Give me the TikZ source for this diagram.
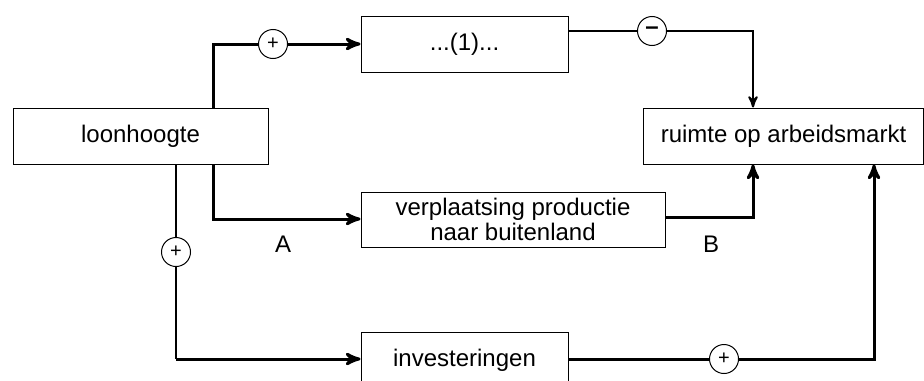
\documentclass[tikz,border=0pt]{standalone}
\usepackage{fontspec}
\setmainfont{Liberation Sans}
\usetikzlibrary{arrows,positioning}

\begin{document}
\begin{tikzpicture}[x=0.5pt,y=-0.5pt,>=stealth',
  box/.style={draw,line width=0.5pt,inner sep=0pt,minimum height=28pt,align=center,font=\fontsize{12}{12.5}\selectfont},
  sign/.style={draw,circle,line width=0.5pt,fill=white,inner sep=0pt,minimum size=14.5pt,font=\fontsize{10}{10}\selectfont},
  lab/.style={font=\fontsize{12}{12}\selectfont},
  link/.style={line width=1.5pt},
  thinlink/.style={line width=1pt}]
  \useasboundingbox (0,0) rectangle (924,380);
  \clip (0,0) rectangle (924,380);

  \node[box, minimum width=127.5pt] (loon) at (140.5,136) {loonhoogte};
  \node[box, minimum width=103.5pt] (een) at (464.5,44) {...(1)...};
  \node[box, minimum width=139.75pt] (ruimte) at (783.5,136) {ruimte op arbeidsmarkt};
  \node[box, minimum width=152pt, minimum height=27.5pt] (verpl) at (513,219.5) {verplaatsing productie\\naar buitenland};
  \node[box, minimum width=103.5pt] (inv) at (464.5,360) {investeringen};

  \node[sign] (plus1) at (273,44) {+};
  \node[sign, font=\fontsize{12}{12}\selectfont\bfseries] (min) at (652,31) {--};
  \node[sign] (plus2) at (176,252) {+};
  \node[sign] (plus3) at (724,359) {+};

  \node[lab] (labA) at (283,244) {A};
  \node[lab] (labB) at (711,244) {B};

  \coordinate (k1) at (213,44);
  \coordinate (k2) at (753,31);
  \coordinate (k3) at (213,219);
  \coordinate (k4) at (753,217);
  \coordinate (k5) at (176,359);
  \coordinate (k6) at (874,359);

  \draw[link,->] (loon.north -| k1) -- (k1) -- (plus1) -- (een);
  \draw[thinlink,->] (een.east |- min) -- (min) -- (k2) -- (k2 |- ruimte.north);
  \draw[link,->] (loon.south -| k3) -- (k3) -- (k3 -| verpl.west);
  \draw[link,->] (verpl.east |- k4) -- (k4) -- (k4 |- ruimte.south);
  \draw[thinlink] (loon.south -| k5) -- (plus2) -- (k5);
  \draw[link,->] (k5) -- (k5 -| inv.west);
  \draw[link,->] (inv.east |- k6) -- (plus3) -- (k6) -- (k6 |- ruimte.south);
\end{tikzpicture}
\end{document}
